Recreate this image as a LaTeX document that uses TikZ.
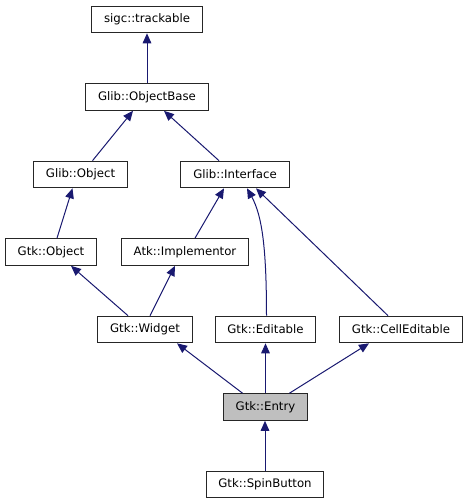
\documentclass[tikz,border=0pt]{standalone}
\usepackage{fontspec}
\setmainfont{DejaVu Sans}
\usetikzlibrary{arrows.meta}

\definecolor{edgeblue}{HTML}{191970}
\definecolor{entrygray}{HTML}{BFBFBF}

\tikzset{
  classbox/.style={draw=black!85, line width=0.75pt, fill=white,
    inner xsep=9.25pt, inner ysep=0pt, minimum height=20pt,
    font=\fontsize{8.8}{10}\selectfont},
  inherit/.style={draw=edgeblue, line width=0.75pt,
    -{Triangle[length=7.5pt,width=6.5pt]}}
}

\begin{document}
\begin{tikzpicture}[x=0.75pt,y=-0.75pt]
\useasboundingbox (0,0) rectangle (471,504);

%classes
\node[classbox] (trackable) at (147,19.5) {sigc::trackable};
\node[classbox] (objectbase) at (147,97) {Glib::ObjectBase};
%
\node[classbox] (globject) at (80.5,174.5) {Glib::Object};
\node[classbox] (interface) at (235,174.5) {Glib::Interface};
%
\node[classbox] (gtkobject) at (51,252) {Gtk::Object};
\node[classbox] (implementor) at (185,252) {Atk::Implementor};
%
\node[classbox] (widget) at (145,329.5) {Gtk::Widget};
\node[classbox] (editable) at (265.5,329.5) {Gtk::Editable};
\node[classbox] (celleditable) at (401,329.5) {Gtk::CellEditable};
%
\node[classbox, fill=entrygray] (entry) at (265.5,407) {Gtk::Entry};
\node[classbox] (spinbutton) at (265,484.5) {Gtk::SpinButton};

%inheritance
\draw[inherit] (objectbase.north) -- (objectbase.north |- trackable.south);

\draw[inherit] ([shift={(12,0)}]globject.north) -- ([shift={(-14,0)}]objectbase.south);
\draw[inherit] ([shift={(-16,0)}]interface.north) -- ([shift={(17,0)}]objectbase.south);

\draw[inherit] ([shift={(6,0)}]gtkobject.north) -- ([shift={(-8,0)}]globject.south);
\draw[inherit] ([shift={(10,0)}]implementor.north) -- ([shift={(-11,0)}]interface.south);

\draw[inherit] ([shift={(-17,0)}]widget.north) -- ([shift={(20,0)}]gtkobject.south);
\draw[inherit] ([shift={(5,0)}]widget.north) -- ([shift={(-10,0)}]implementor.south);
\draw[inherit] ([shift={(1,0)}]editable.north) .. controls +(0,-68) and +(15,27) .. ([shift={(12,0)}]interface.south);
\draw[inherit] ([shift={(-13,0)}]celleditable.north) -- ([shift={(21,0)}]interface.south);

\draw[inherit] ([shift={(-23,0)}]entry.north) -- ([shift={(32,0)}]widget.south);
\draw[inherit] (entry.north) -- (entry.north |- editable.south);
\draw[inherit] ([shift={(24,0)}]entry.north) -- ([shift={(-32,0)}]celleditable.south);

\draw[inherit] (spinbutton.north) -- (spinbutton.north |- entry.south);
\end{tikzpicture}
\end{document}
